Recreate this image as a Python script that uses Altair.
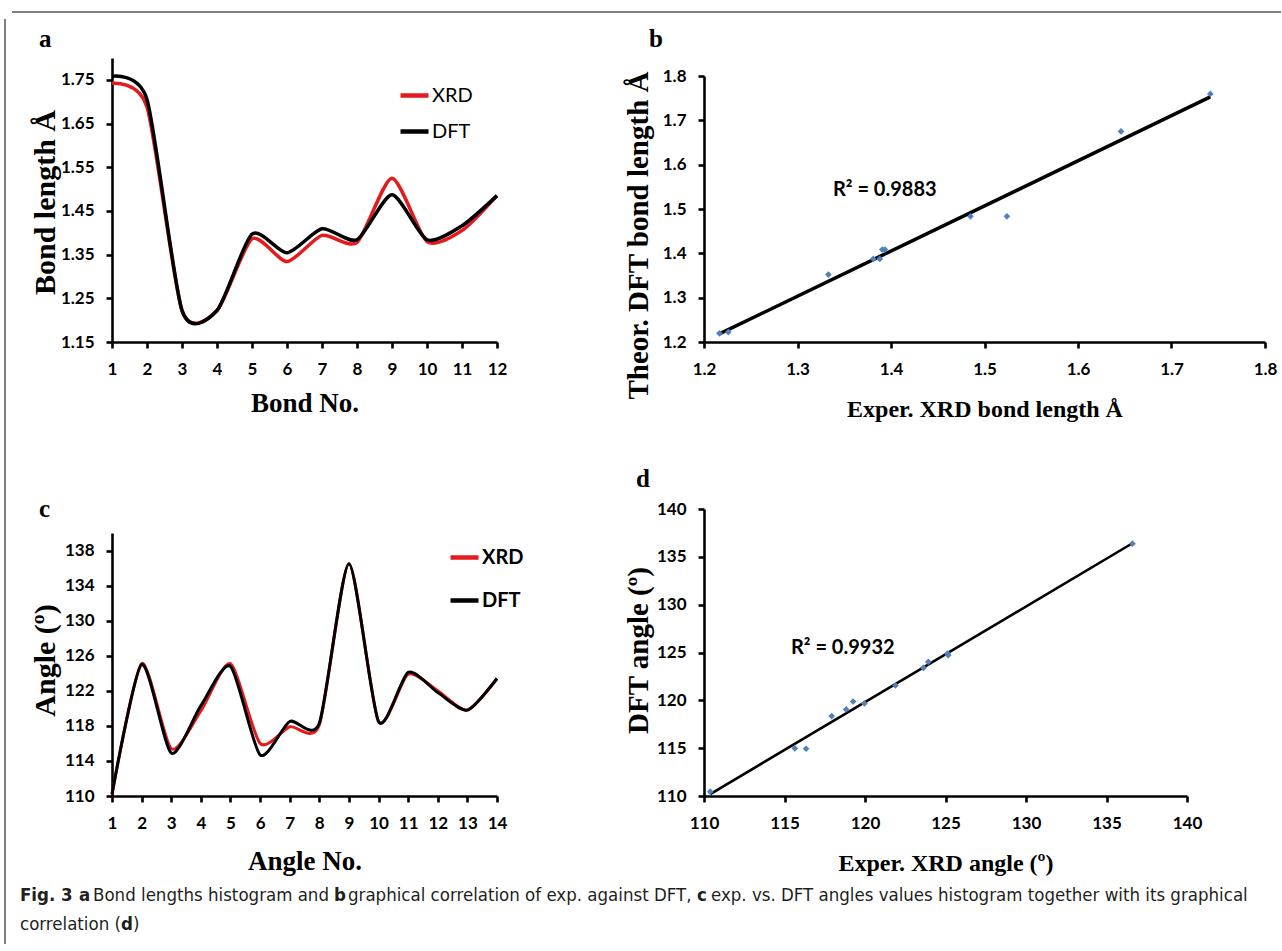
import altair as alt
import pandas as pd

# ---------------- data ----------------
bond_no = list(range(1, 13))
bond_xrd = [1.742, 1.688, 1.222, 1.222, 1.386, 1.334, 1.394, 1.378, 1.525, 1.380, 1.405, 1.485]
bond_dft = [1.758, 1.705, 1.222, 1.222, 1.397, 1.354, 1.409, 1.384, 1.487, 1.384, 1.416, 1.485]

corr_b_xrd = [1.2165, 1.226, 1.333, 1.381, 1.388, 1.3907, 1.3935, 1.485, 1.524, 1.646, 1.7415]
corr_b_dft = [1.2195, 1.2225, 1.352, 1.3875, 1.3875, 1.4085, 1.4085, 1.4835, 1.4835, 1.675, 1.7595]

angle_no = list(range(1, 15))
angle_xrd = [110.2, 125.1, 115.4, 119.7, 125.1, 116.0, 117.9, 118.1, 136.5, 118.5, 123.9, 122.0, 119.8, 123.4]
angle_dft = [110.2, 125.0, 114.9, 120.3, 124.8, 114.7, 118.5, 118.3, 136.5, 118.5, 124.1, 121.8, 119.8, 123.4]

corr_d_xrd = [110.39, 115.64, 116.34, 117.93, 118.83, 119.26, 119.96, 121.89, 123.63, 123.93, 125.13, 125.17, 136.61]
corr_d_dft = [110.45, 114.98, 114.94, 118.35, 119.05, 119.88, 119.67, 121.55, 123.40, 124.02, 124.89, 124.72, 136.37]

ticks_a_y = [1.15, 1.25, 1.35, 1.45, 1.55, 1.65, 1.75]
ticks_b = [1.2, 1.3, 1.4, 1.5, 1.6, 1.7, 1.8]
ticks_c_y = [110, 114, 118, 122, 126, 130, 134, 138]
ticks_d = [110, 115, 120, 125, 130, 135, 140]

series_names = ["XRD", "DFT"]
r2_b = "R² = 0.9883"
r2_d = "R² = 0.9932"

caption_text = ["Fig. 3", "a", "Bond lengths histogram and", "b",
                "graphical correlation of exp. against DFT,", "c",
                "exp. vs. DFT angles values histogram together with its graphical",
                "correlation (", "d", ")"]
caption_bold = [True, True, False, True, False, True, False, False, True, False]
caption_px = [20, 79, 93, 334, 348, 697, 711, 20, 121, 133]
caption_py = [105, 105, 105, 105, 105, 105, 105, 134, 134, 134]

RED = "#e41a1c"
BLUE = "#4f81bd"
TICK_FONT = "Lato"
SERIF = "Liberation Serif"
LEFT = 112   # x of first column's plot area
RIGHT = 704  # x of second column's plot area


def one():
    return pd.DataFrame({"v": [0]})


def line_panel(xs, y1, y2, field, xdom, ydom, yrange, yvals, yfmt, xtitle, ytitle,
               w, h, legX, legY, legRow, legWeight, sw, xtitleY, ytitleY):
    df = pd.DataFrame({"no": xs * 2, "value": y1 + y2,
                       field: [series_names[0]] * len(xs) + [series_names[1]] * len(xs)})
    x = alt.X("no:Q", scale=alt.Scale(domain=xdom, nice=False, zero=False),
              axis=alt.Axis(values=xs, format="d", title=xtitle, titleFontSize=27,
                            titleY=xtitleY, titleBaseline="alphabetic",
                            labelPadding=13, labelFlush=False))
    y = alt.Y("value:Q", scale=alt.Scale(domain=ydom, range=yrange, nice=False, zero=False),
              axis=alt.Axis(values=yvals, format=yfmt, title=ytitle, titleFontSize=30,
                            titleX=-58, titleY=ytitleY, titleBaseline="alphabetic",
                            labelPadding=12, labelFlush=False))
    color = alt.Color(f"{field}:N",
                      scale=alt.Scale(domain=series_names, range=[RED, "black"]),
                      legend=alt.Legend(orient="none", legendX=legX, legendY=legY, title=None,
                                        symbolType="stroke", symbolSize=784,
                                        symbolStrokeWidth=4.5, labelFont=TICK_FONT,
                                        labelFontSize=20, labelFontWeight=legWeight,
                                        labelColor="black", labelOffset=1,
                                        rowPadding=legRow, padding=0))
    layers = []
    for s in series_names:
        layers.append(alt.Chart(df).transform_filter(alt.datum[field] == s)
                      .mark_line(interpolate="cardinal", tension=0.3, strokeWidth=sw)
                      .encode(x=x, y=y, color=color))
    return alt.layer(*layers).properties(width=w, height=h)


def scatter_panel(xv, yv, dom, yrange, vals, fmt, xtitle, ytitle, w, h, sw,
                  r2, r2x, r2y, ytitleY):
    df = pd.DataFrame({"xrd": xv, "dft": yv})
    x = alt.X("xrd:Q", scale=alt.Scale(domain=dom, nice=False, zero=False),
              axis=alt.Axis(values=vals, format=fmt, title=xtitle, titleFontSize=24,
                            titleY=74, titleBaseline="alphabetic", labelPadding=13,
                            labelFlush=False))
    y = alt.Y("dft:Q", scale=alt.Scale(domain=dom, range=yrange, nice=False, zero=False),
              axis=alt.Axis(values=vals, format=fmt, title=ytitle, titleFontSize=29,
                            titleX=-57, titleY=ytitleY, titleBaseline="alphabetic",
                            labelPadding=12, labelFlush=False))
    pts = alt.Chart(df).mark_point(shape="diamond", filled=True, size=45, color=BLUE,
                                   opacity=1).encode(x=x, y=y)
    reg = alt.Chart(df).transform_regression("xrd", "dft").mark_line(
        color="black", strokeWidth=sw).encode(x=x, y=y)
    txt = alt.Chart(pd.DataFrame({"t": [r2]})).mark_text(
        align="left", baseline="middle", font=TICK_FONT, fontWeight="bold",
        fontSize=20, color="black").encode(text="t:N", x=alt.value(r2x), y=alt.value(r2y))
    return alt.layer(reg, pts, txt).properties(width=w, height=h)


def letters(texts, pxs, pys):
    df = pd.DataFrame({"t": texts, "px": pxs, "py": pys})
    return alt.Chart(df).mark_text(align="left", baseline="alphabetic", font=SERIF,
                                   fontWeight="bold", fontSize=25, color="black").encode(
        text="t:N", x=alt.X("px:Q", scale=None, axis=None),
        y=alt.Y("py:Q", scale=None, axis=None))


def blank(w, h):
    return alt.Chart(one()).mark_point(opacity=0).encode(
        x=alt.value(0), y=alt.value(0)).properties(width=w, height=h)


# ---------------- panels ----------------
panel_a = line_panel(bond_no, bond_xrd, bond_dft, "series_a", [1, 12], [1.15, 1.80],
                     [284, 0], ticks_a_y, ".2f", "Bond No.", "Bond length Å", 385, 284,
                     405 - LEFT - 7, 95 - 16 - 58, 9, "normal", 3.5, 69, 144)
panel_b = scatter_panel(corr_b_xrd, corr_b_dft, [1.2, 1.8], [284, 18], ticks_b, ".1f",
                        "Exper. XRD  bond length Å", "Theor. DFT bond length Å",
                        561, 284, 3.5, r2_b, 833 - RIGHT, 190 - 58, 177)
panel_c = line_panel(angle_no, angle_xrd, angle_dft, "series_c", [1, 14], [110, 140],
                     [287, 24], ticks_c_y, "d", "Angle No.", "Angle (º)", 385, 287,
                     455 - LEFT - 7, 557 - 16 - 509, 16, "bold", 3, 73, 151)
panel_d = scatter_panel(corr_d_xrd, corr_d_dft, [110, 140], [287, 0], ticks_d, "d",
                        "Exper. XRD  angle (º)", "DFT  angle (º)",
                        483, 287, 2.6, r2_d, 790 - 703, 648 - 509, 141)

# top-left cell: frame of the figure, anchor of the canvas and letter "a"
frame = alt.layer(
    alt.Chart(one()).mark_rule(color="white", opacity=0, strokeWidth=0).encode(
        x=alt.value(-LEFT), x2=alt.value(-LEFT + 1), y=alt.value(0)),
    alt.Chart(one()).mark_rule(color="black", strokeWidth=1).encode(
        x=alt.value(12 - LEFT), x2=alt.value(1281 - LEFT), y=alt.value(12)),
    alt.Chart(one()).mark_rule(color="black", strokeWidth=1).encode(
        x=alt.value(5 - LEFT), y=alt.value(19), y2=alt.value(944)),
    letters(["a"], [39 - LEFT], [47]),
).properties(width=385, height=58)
top_right = letters(["b"], [649 - RIGHT], [47]).properties(width=561, height=58)
gap_left = letters(["c"], [39 - LEFT], [175]).properties(width=385, height=167)
gap_right = letters(["d"], [636 - RIGHT], [145]).properties(width=561, height=167)

cap_df = pd.DataFrame({"t": caption_text, "bold": caption_bold,
                       "px": [p - LEFT for p in caption_px], "py": caption_py})
cap_layers = []
for b in [True, False]:
    cap_layers.append(alt.Chart(cap_df).transform_filter(alt.datum.bold == b).mark_text(
        align="left", baseline="alphabetic", font="DejaVu Sans Condensed",
        fontSize=18.5, fontWeight="bold" if b else "normal", color="#231f20").encode(
        text="t:N", x=alt.X("px:Q", scale=None, axis=None),
        y=alt.Y("py:Q", scale=None, axis=None)))
caption = alt.layer(*cap_layers).properties(width=385, height=155)

chart = alt.concat(
    frame, top_right,
    panel_a, panel_b,
    gap_left, gap_right,
    panel_c, panel_d,
    caption, blank(561, 1),
    columns=2, spacing={"row": 0, "column": 207}, bounds="flush",
).resolve_scale(color="independent").resolve_legend(color="independent").properties(
    padding=0, background="white"
).configure_view(stroke=None).configure_axis(
    domainColor="black", domainWidth=2.6, tickColor="black", tickWidth=2.6, tickSize=6,
    grid=False, labelFont=TICK_FONT, labelFontWeight="bold", labelFontSize=17,
    labelColor="black", titleFont=SERIF, titleFontWeight="bold", titleColor="black",
    labelOverlap=False, labelBound=False
)

chart.save("out.html", embed_options={"renderer": "svg", "actions": False})
